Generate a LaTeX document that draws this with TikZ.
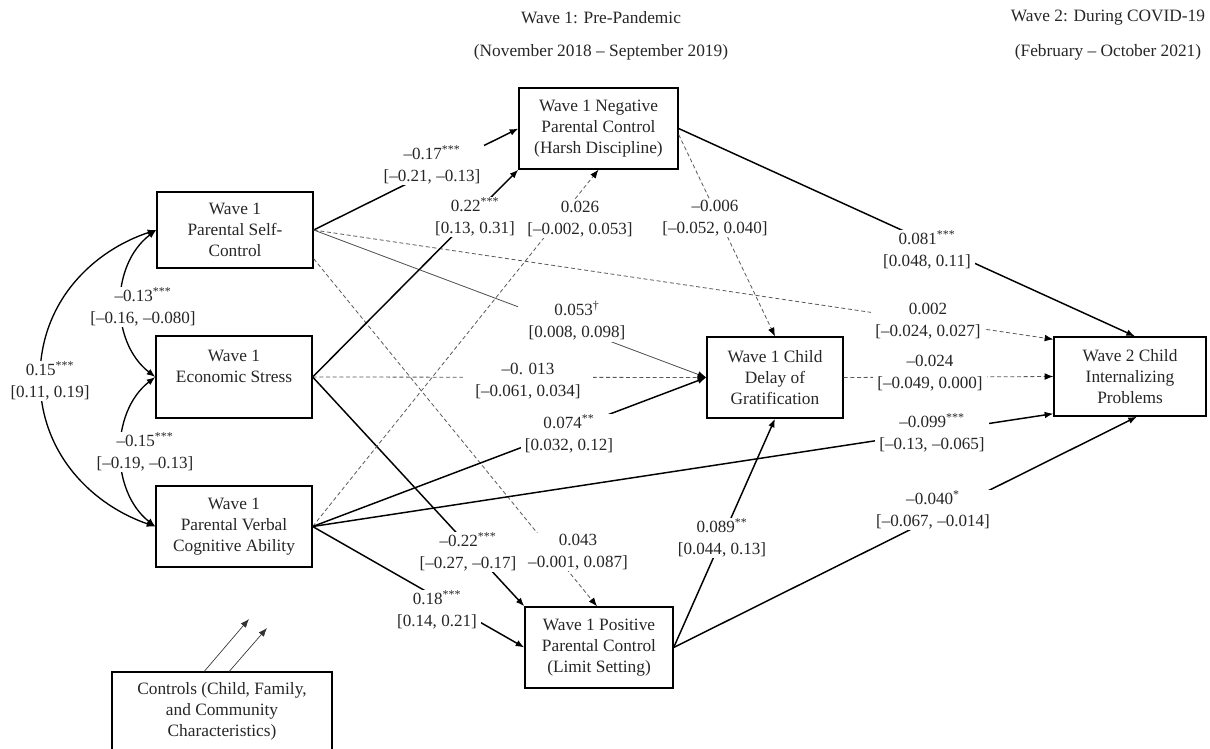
\documentclass[tikz,border=0pt]{standalone}
\usepackage{fontspec}
\setmainfont{Liberation Serif}
\usetikzlibrary{arrows.meta,calc}
\begin{document}
\begin{tikzpicture}[x=0.75pt,y=-0.75pt,
  box/.style={draw=black, line width=1pt, align=center, inner sep=0pt, font=\fontsize{13}{15.75}\selectfont, text=black!85},
  lab/.style={fill=white, align=center, inner xsep=3pt, inner ysep=1pt, font=\fontsize{12.8}{16.5}\selectfont, text=black!85},
  hdr/.style={font=\fontsize{13}{14}\selectfont, text=black!85},
  tip/.style={-{Latex[length=6.5pt,width=5pt,color=black]}},
  sol/.style={tip, line width=1.1pt},
  dsh/.style={tip, line width=0.6pt, black!65, dash pattern=on 3pt off 2pt},
  thinline/.style={tip, line width=0.6pt, black!70},
  ctl/.style={-{Latex[length=6.5pt,width=5pt]}, line width=0.5pt, black!80},
  cov/.style={{Latex[length=6.5pt,width=5pt]}-{Latex[length=6.5pt,width=5pt]}, line width=1pt},
]
\useasboundingbox (0,0) rectangle (1210,749);

% headers
\node[hdr] (h1) at (601,18) {Wave 1: Pre-Pandemic};
\node[hdr] (h1b) at (601,52) {(November 2018 – September 2019)};
\node[hdr] (h2) at (1108,18) {Wave 2: During COVID-19};
\node[hdr] (h2b) at (1108,52) {(February – October 2021)};

% boxes
\node[box, minimum width=117pt, minimum height=57pt] (SC) at (235,230) {Wave 1\\Parental Self-\\Control};
\node[box, minimum width=117pt, minimum height=61.5pt] (ES) at (234,377) {Wave 1\\Economic Stress\\~};
\node[box, minimum width=117pt, minimum height=60.75pt] (PV) at (234,526.5) {Wave 1\\Parental Verbal\\Cognitive Ability};
\node[box, minimum width=119.25pt, minimum height=60.75pt] (NEG) at (598.5,128.5) {Wave 1 Negative\\Parental Control\\(Harsh Discipline)};
\node[box, minimum width=111pt, minimum height=60.75pt] (POS) at (599,647.5) {Wave 1 Positive\\Parental Control\\(Limit Setting)};
\node[box, minimum width=102pt, minimum height=60.75pt] (DoG) at (775,377.5) {Wave 1 Child\\Delay of\\Gratification};
\node[box, minimum width=114pt, minimum height=59.25pt] (INT) at (1130,376.5) {Wave 2 Child\\Internalizing\\Problems};
\node[box, minimum width=165pt, minimum height=58.5pt] (CTRL) at (222,711) {Controls (Child, Family,\\and Community\\Characteristics)};

% covariance arcs
\draw[cov] (SC.west) .. controls (110,265) and (110,342) .. (ES.west);
\draw[cov] (ES.west) .. controls (110,412) and (110,491) .. (PV.west);
\draw[cov] (SC.west) .. controls (95,250) and (40,300) .. (40,378) .. controls (40,456) and (95,506) .. (PV.west);

% paths
\draw[sol] (SC.east) -- (NEG.west);
\draw[thinline] (SC.east) -- (DoG.west);
\draw[dsh] (SC.east) -- ($(INT.north west)+(0,3)$);
\draw[dsh] ($(SC.south east)+(0,-10)$) -- ($(POS.north)+(-2,0)$);
\draw[sol] (ES.east) -- (NEG.south west);
\draw[dsh] (ES.east) -- (DoG.west);
\draw[sol] (ES.east) -- (POS.north west);
\draw[dsh] (PV.east) -- (NEG.south);
\draw[sol] (PV.east) -- (DoG.west);
\draw[sol] (PV.east) -- ($(INT.south west)+(0,-3)$);
\draw[sol] (PV.east) -- (POS.west);
\draw[sol] (NEG.east) -- ($(INT.north)+(5,0)$);
\draw[dsh] ($(NEG.east)+(0,6)$) -- (DoG.north);
\draw[dsh] (DoG.east) -- (INT.west);
\draw[sol] (POS.east) -- (DoG.south);
\draw[sol] (POS.east) -- ($(INT.south)+(7,0)$);

% controls
\coordinate (t1) at (249,619);
\coordinate (t2) at (267,628);
\draw[ctl] ($(CTRL.north west)+(93,0)$) -- (t1);
\draw[ctl] ($(CTRL.north west)+(118,0)$) -- (t2);

% labels
\node[lab] (la1) at (143,307) {–0.13\textsuperscript{***}\\{}[–0.16, –0.080]};
\node[lab] (la2) at (145,452) {–0.15\textsuperscript{***}\\{}[–0.19, –0.13]};
\node[lab] (la3) at (50,381) {0.15\textsuperscript{***}\\{}[0.11, 0.19]};
\node[lab] (l1) at (432,165) {–0.17\textsuperscript{***}\\{}[–0.21, –0.13]};
\node[lab] (l2) at (475,217) {0.22\textsuperscript{***}\\{}[0.13, 0.31]};
\node[lab] (l3) at (580,219) {0.026\\{}[–0.002, 0.053]};
\node[lab] (l4) at (715,218) {–0.006\\{}[–0.052, 0.040]};
\node[lab] (l5) at (927,250) {0.081\textsuperscript{***}\\{}[0.048, 0.11]};
\node[lab, inner xsep=8pt] (l6) at (577,321) {0.053\textsuperscript{†}\\{}[0.008, 0.098]};
\node[lab] (l7) at (928,321) {0.002\\{}[–0.024, 0.027]};
\node[lab, inner xsep=9pt] (l8) at (528,381) {–0. 013\\{}[–0.061, 0.034]};
\node[lab] (l9) at (930,373) {–0.024\\{}[–0.049, 0.000]};
\node[lab] (l10) at (569,434) {0.074\textsuperscript{**}\\{}[0.032, 0.12]};
\node[lab] (l11) at (932,433) {–0.099\textsuperscript{***}\\{}[–0.13, –0.065]};
\node[lab] (l12) at (468,552) {–0.22\textsuperscript{***}\\{}[–0.27, –0.17]};
\node[lab] (l13) at (578,552) {0.043\\–0.001, 0.087]};
\node[lab] (l14) at (437,610) {0.18\textsuperscript{***}\\{}[0.14, 0.21]};
\node[lab] (l15) at (722,538) {0.089\textsuperscript{**}\\{}[0.044, 0.13]};
\node[lab] (l16) at (933,510) {–0.040\textsuperscript{*}\\{}[–0.067, –0.014]};
\end{tikzpicture}
\end{document}
